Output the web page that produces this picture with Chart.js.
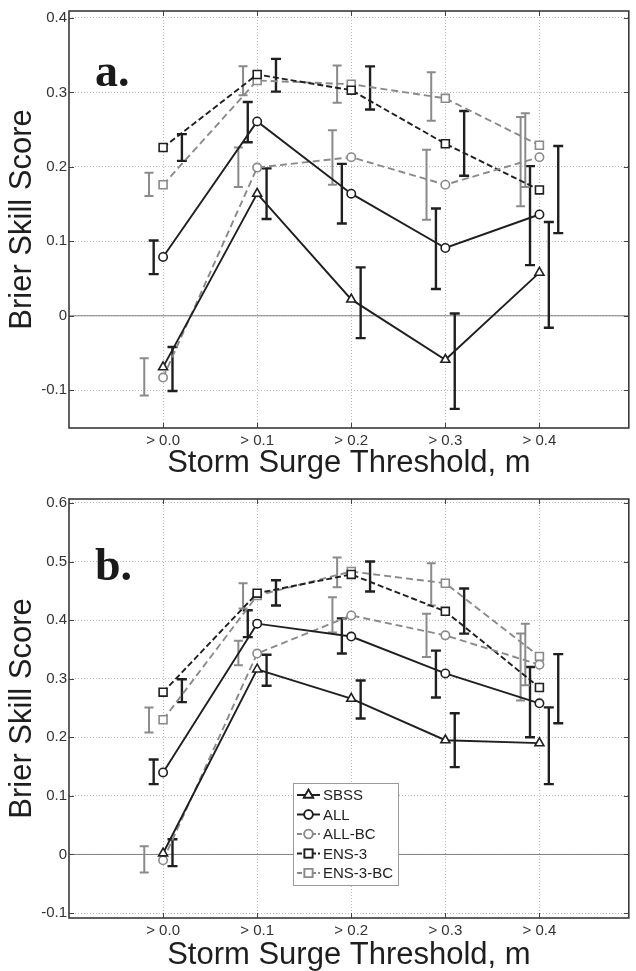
<!DOCTYPE html>
<html><head><meta charset="utf-8">
<script src="https://cdn.jsdelivr.net/npm/chart.js@4.4.1/dist/chart.umd.min.js"></script>
<style>
html,body{margin:0;padding:0;background:#fff;}
#wrap{position:relative;width:636px;height:971px;overflow:hidden;}
canvas{position:absolute;left:0;}
</style></head><body>
<div id="wrap">
<canvas id="c1" width="636" height="481" style="top:0px"></canvas>
<canvas id="c2" width="636" height="485" style="top:486px"></canvas>
</div>
<script>
// ---------- data ----------
const thresholds = [0, 0.1, 0.2, 0.3, 0.4];
const xTickLabels = ['> 0.0', '> 0.1', '> 0.2', '> 0.3', '> 0.4'];
const seriesNames = ['SBSS', 'ALL', 'ALL-BC', 'ENS-3', 'ENS-3-BC'];
const yTicksA = [-0.1, 0, 0.1, 0.2, 0.3, 0.4];
const yTicksB = [-0.1, 0, 0.1, 0.2, 0.3, 0.4, 0.5, 0.6];

// panel a
const aSBSS    = [-0.069, 0.164, 0.022, -0.059, 0.058];
const aSBSSLo  = [-0.101, 0.130, -0.030, -0.125, -0.016];
const aSBSSHi  = [-0.042, 0.198, 0.065, 0.003, 0.126];
const aALL     = [0.079, 0.261, 0.164, 0.091, 0.136];
const aALLLo   = [0.056, 0.233, 0.124, 0.036, 0.068];
const aALLHi   = [0.101, 0.287, 0.204, 0.144, 0.201];
const aALLBC   = [-0.083, 0.199, 0.213, 0.176, 0.213];
const aALLBCLo = [-0.107, 0.173, 0.176, 0.129, 0.147];
const aALLBCHi = [-0.057, 0.226, 0.249, 0.223, 0.267];
const aENS3    = [0.226, 0.324, 0.303, 0.231, 0.169];
const aENS3Lo  = [0.208, 0.301, 0.277, 0.188, 0.111];
const aENS3Hi  = [0.244, 0.345, 0.335, 0.275, 0.228];
const aENS3BC  = [0.176, 0.316, 0.311, 0.292, 0.229];
const aENS3BCLo= [0.161, 0.296, 0.286, 0.262, 0.173];
const aENS3BCHi= [0.192, 0.335, 0.336, 0.327, 0.272];

// panel b
const bSBSS    = [0.002, 0.316, 0.266, 0.195, 0.190];
const bSBSSLo  = [-0.020, 0.288, 0.232, 0.149, 0.120];
const bSBSSHi  = [0.026, 0.341, 0.297, 0.241, 0.251];
const bALL     = [0.140, 0.394, 0.372, 0.309, 0.258];
const bALLLo   = [0.120, 0.371, 0.343, 0.268, 0.200];
const bALLHi   = [0.162, 0.417, 0.403, 0.348, 0.320];
const bALLBC   = [-0.010, 0.343, 0.408, 0.374, 0.324];
const bALLBCLo = [-0.031, 0.323, 0.379, 0.337, 0.263];
const bALLBCHi = [0.014, 0.365, 0.439, 0.411, 0.377];
const bENS3    = [0.277, 0.446, 0.478, 0.415, 0.285];
const bENS3Lo  = [0.260, 0.425, 0.449, 0.377, 0.224];
const bENS3Hi  = [0.299, 0.468, 0.500, 0.454, 0.342];
const bENS3BC  = [0.230, 0.442, 0.483, 0.463, 0.338];
const bENS3BCLo= [0.208, 0.420, 0.456, 0.425, 0.289];
const bENS3BCHi= [0.251, 0.463, 0.507, 0.497, 0.394];

// ---------- styles ----------
const BLACK = '#1f1f1f', GRAY = '#8a8a8a';
const styles = [
  {color: BLACK, dash: [],     point: 'triangle', r: 5.2, off: 0.01,   ebW: 2.4, cap: 5},
  {color: BLACK, dash: [],     point: 'circle',   r: 4.2, off: -0.01,  ebW: 2.4, cap: 5},
  {color: GRAY,  dash: [7, 4], point: 'circle',   r: 4.2, off: -0.02,  ebW: 2.0, cap: 4.5},
  {color: BLACK, dash: [6, 3], point: 'rect',     r: 5.6, off: 0.02,   ebW: 2.4, cap: 5},
  {color: GRAY,  dash: [7, 4], point: 'rect',     r: 5.6, off: -0.015, ebW: 2.0, cap: 4.5}
];
const FONT = "'Liberation Sans', Arial, Helvetica, sans-serif";

const framePlugin = {
  id: 'frame',
  beforeDatasetsDraw(chart, args, o) {
    const {ctx, chartArea: a, scales: {x, y}} = chart;
    ctx.save();
    // zero line
    const y0 = y.getPixelForValue(0);
    ctx.strokeStyle = '#808080'; ctx.lineWidth = 1; ctx.setLineDash([]);
    ctx.beginPath(); ctx.moveTo(a.left, y0); ctx.lineTo(a.right, y0); ctx.stroke();
    // error bars
    ctx.beginPath(); ctx.rect(a.left, a.top, a.right - a.left, a.bottom - a.top); ctx.clip();
    o.errs.forEach((e, i) => {
      const s = styles[i];
      ctx.strokeStyle = s.color; ctx.lineWidth = s.ebW; ctx.lineCap = 'butt';
      thresholds.forEach((t, j) => {
        const px = x.getPixelForValue(t + s.off);
        const pt = y.getPixelForValue(e.hi[j]);
        const pb = y.getPixelForValue(e.lo[j]);
        ctx.beginPath();
        ctx.moveTo(px, pt); ctx.lineTo(px, pb);
        ctx.moveTo(px - s.cap, pt); ctx.lineTo(px + s.cap, pt);
        ctx.moveTo(px - s.cap, pb); ctx.lineTo(px + s.cap, pb);
        ctx.stroke();
      });
    });
    ctx.restore();
  },
  afterDraw(chart, args, o) {
    const {ctx, chartArea: a, scales: {x, y}} = chart;
    ctx.save();
    ctx.setLineDash([]);
    // inner ticks
    ctx.strokeStyle = '#444'; ctx.lineWidth = 1;
    ctx.beginPath();
    x.ticks.forEach(t => {
      const px = Math.round(x.getPixelForValue(t.value)) + 0.5;
      ctx.moveTo(px, a.bottom); ctx.lineTo(px, a.bottom - 5);
      ctx.moveTo(px, a.top); ctx.lineTo(px, a.top + 5);
    });
    y.ticks.forEach(t => {
      const py = Math.round(y.getPixelForValue(t.value)) + 0.5;
      ctx.moveTo(a.left, py); ctx.lineTo(a.left + 5, py);
      ctx.moveTo(a.right, py); ctx.lineTo(a.right - 5, py);
    });
    ctx.stroke();
    // frame
    ctx.strokeStyle = '#3a3a3a'; ctx.lineWidth = 1.6;
    ctx.strokeRect(a.left, a.top, a.right - a.left, a.bottom - a.top);
    // panel label
    ctx.fillStyle = '#1a1a1a';
    ctx.font = "bold 46px 'Liberation Serif', 'Times New Roman', serif";
    ctx.textBaseline = 'alphabetic'; ctx.textAlign = 'left';
    ctx.fillText(o.panel, a.left + 26, a.top + o.panelY);
    // legend
    if (o.legend) {
      const L = o.legend;
      const bx = a.left + L.dx, by = a.top + L.dy;
      ctx.fillStyle = '#fff';
      ctx.fillRect(bx, by, L.w, L.h);
      ctx.strokeStyle = '#9a9a9a'; ctx.lineWidth = 1;
      ctx.strokeRect(bx + 0.5, by + 0.5, L.w, L.h);
      chart.data.datasets.forEach((ds, i) => {
        const s = styles[i];
        const ly = by + 12 + i * 19.5;
        ctx.strokeStyle = s.color; ctx.lineWidth = 2;
        ctx.setLineDash(s.dash.length ? [5, 2] : []);
        ctx.beginPath(); ctx.moveTo(bx + 4, ly); ctx.lineTo(bx + 27, ly); ctx.stroke();
        ctx.setLineDash([]);
        Chart.helpers.drawPoint(ctx, {pointStyle: s.point, radius: s.r, borderWidth: 1.6, rotation: 0}, bx + 15.5, ly);
        ctx.fillStyle = '#fff';
        ctx.beginPath();
        // redraw marker filled white then stroked
        ctx.fillStyle = '#fff';
        ctx.strokeStyle = s.color; ctx.lineWidth = 1.6;
        Chart.helpers.drawPoint(ctx, {pointStyle: s.point, radius: s.r, borderWidth: 1.6, rotation: 0}, bx + 15.5, ly);
        ctx.fillStyle = '#222';
        ctx.font = '15px ' + FONT;
        ctx.textBaseline = 'middle';
        ctx.fillText(ds.label, bx + 30, ly + 1);
      });
    }
    ctx.restore();
  }
};

function makeChart(id, cfg) {
  const datasets = cfg.values.map((vals, i) => ({
    label: seriesNames[i],
    data: thresholds.map((t, j) => ({x: t, y: vals[j]})),
    borderColor: styles[i].color,
    backgroundColor: '#fff',
    borderWidth: 1.9,
    borderDash: styles[i].dash,
    pointStyle: styles[i].point,
    pointRadius: styles[i].r,
    pointBorderWidth: 1.6,
    pointBorderColor: styles[i].color,
    pointBackgroundColor: '#fff',
    tension: 0,
    fill: false,
    clip: false
  }));
  return new Chart(document.getElementById(id), {
    type: 'line',
    data: {datasets},
    options: {
      responsive: false,
      animation: false,
      devicePixelRatio: 1,
      layout: {padding: {top: cfg.padTop, right: 1, left: 0, bottom: 0}},
      plugins: {
        legend: {display: false},
        tooltip: {enabled: false},
        frame: {errs: cfg.errs, panel: cfg.panel, panelY: cfg.panelY, legend: cfg.legend}
      },
      scales: {
        x: {
          type: 'linear', min: -0.1, max: 0.495,
          afterBuildTicks: s => { s.ticks = thresholds.map(v => ({value: v})); },
          afterFit: s => { s.height = 53; },
          ticks: {
            callback: (v, i) => xTickLabels[i],
            font: {family: FONT, size: 15}, color: '#333', padding: 4,
            maxRotation: 0, autoSkip: false
          },
          grid: {color: '#b8b8b8', lineWidth: 1, drawTicks: false},
          border: {display: false, dash: [1, 2]},
          title: {
            display: true, text: 'Storm Surge Threshold, m', color: '#1e1e1e',
            font: {family: FONT, size: 31, lineHeight: 1},
            padding: {top: 0, bottom: cfg.xTitlePad}
          }
        },
        y: {
          type: 'linear', min: cfg.yMin, max: cfg.yMax,
          afterBuildTicks: s => { s.ticks = cfg.yTicks.map(v => ({value: v})); },
          afterFit: s => { s.width = 69; },
          ticks: {
            callback: v => (v === 0 ? '0' : v.toFixed(1)),
            font: {family: FONT, size: 15}, color: '#333', padding: 2
          },
          grid: {color: '#b8b8b8', lineWidth: 1, drawTicks: false},
          border: {display: false, dash: [1, 2]},
          title: {
            display: true, text: 'Brier Skill Score', color: '#1e1e1e',
            font: {family: FONT, size: 31, lineHeight: 1},
            padding: {top: 7, bottom: 0}
          }
        }
      }
    },
    plugins: [framePlugin]
  });
}

makeChart('c1', {
  values: [aSBSS, aALL, aALLBC, aENS3, aENS3BC],
  errs: [
    {lo: aSBSSLo, hi: aSBSSHi}, {lo: aALLLo, hi: aALLHi}, {lo: aALLBCLo, hi: aALLBCHi},
    {lo: aENS3Lo, hi: aENS3Hi}, {lo: aENS3BCLo, hi: aENS3BCHi}
  ],
  yTicks: yTicksA, yMin: -0.1507, yMax: 0.4093,
  padTop: 8, xTitlePad: 2, panel: 'a.', panelY: 75, legend: null
});

makeChart('c2', {
  values: [bSBSS, bALL, bALLBC, bENS3, bENS3BC],
  errs: [
    {lo: bSBSSLo, hi: bSBSSHi}, {lo: bALLLo, hi: bALLHi}, {lo: bALLBCLo, hi: bALLBCHi},
    {lo: bENS3Lo, hi: bENS3Hi}, {lo: bENS3BCLo, hi: bENS3BCHi}
  ],
  yTicks: yTicksB, yMin: -0.1085, yMax: 0.6068,
  padTop: 13, xTitlePad: 0, panel: 'b.', panelY: 81,
  legend: {dx: 224, dy: 284, w: 105, h: 102}
});
</script>
</body></html>
